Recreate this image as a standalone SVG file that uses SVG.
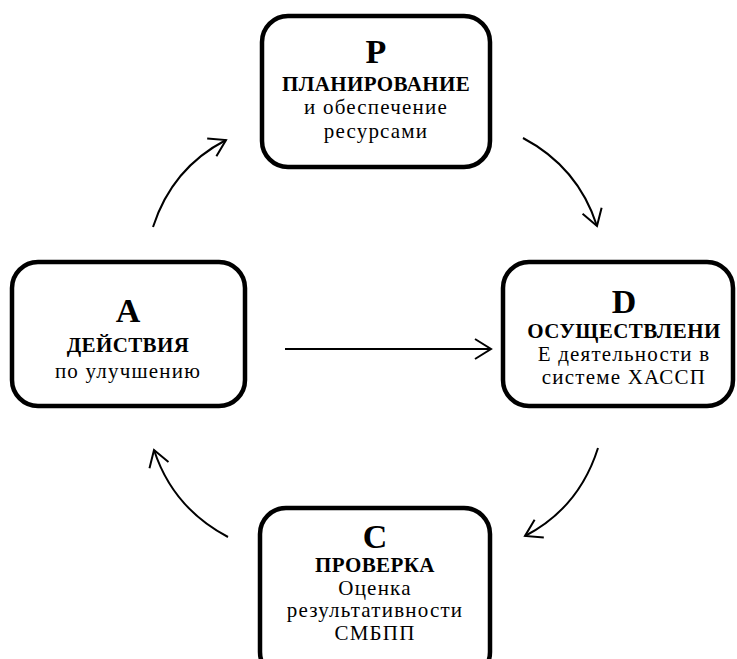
<svg xmlns="http://www.w3.org/2000/svg" width="737" height="659" viewBox="0 0 737 659">
<style>
.box{fill:#fff;stroke:#000;stroke-width:4.5}
text{font-family:"Liberation Serif","Times New Roman",serif;fill:#000;text-anchor:middle}
.big{font-size:34px;font-weight:bold}
.b{font-size:21px;font-weight:bold;letter-spacing:0.4px}
.n{font-size:21px;letter-spacing:1.2px}
.con path{fill:none;stroke:#000;stroke-width:2}
</style>
<defs>
<marker id="ah" markerUnits="userSpaceOnUse" markerWidth="40" markerHeight="40" viewBox="-20 -20 40 40" refX="0" refY="0" orient="auto">
<path d="M-16,-10 L0,0 L-16,10" fill="none" stroke="#000" stroke-width="2"/>
</marker>
</defs>
<g id="P"><rect class="box" x="262" y="16" width="228" height="151" rx="26"/>
<text class="big" x="376" y="63">P</text>
<text class="b" x="376" y="91">ПЛАНИРОВАНИЕ</text>
<text class="n" x="376" y="114">и обеспечение</text>
<text class="n" x="376" y="138">ресурсами</text></g>
<g id="D"><rect class="box" x="503" y="262" width="230" height="144" rx="26"/>
<text class="big" x="624" y="313">D</text>
<text class="b" x="624" y="338">ОСУЩЕСТВЛЕНИ</text>
<text class="n" x="624" y="361">Е деятельности в</text>
<text class="n" x="624" y="384">системе ХАССП</text></g>
<g id="A"><rect class="box" x="12" y="262" width="233" height="144" rx="26"/>
<text class="big" x="128" y="322">A</text>
<text class="b" x="128" y="352">ДЕЙСТВИЯ</text>
<text class="n" x="128" y="378">по улучшению</text></g>
<g id="C"><rect class="box" x="260" y="508" width="230" height="170" rx="26"/>
<text class="big" x="375" y="548">C</text>
<text class="b" x="375" y="572">ПРОВЕРКА</text>
<text class="n" x="375" y="595">Оценка</text>
<text class="n" x="375" y="617">результативности</text>
<text class="n" x="375" y="640">СМБПП</text></g>
<g id="connectors" class="con">
<path d="M153,227 Q172,168 226,140" marker-end="url(#ah)"/>
<path d="M523,138 Q578,167 597,226" marker-end="url(#ah)"/>
<path d="M598,448 Q579,508 525,536" marker-end="url(#ah)"/>
<path d="M228,537 Q173,508 154,450" marker-end="url(#ah)"/>
<path d="M285,349 L491,349" marker-end="url(#ah)"/>
</g>
</svg>
